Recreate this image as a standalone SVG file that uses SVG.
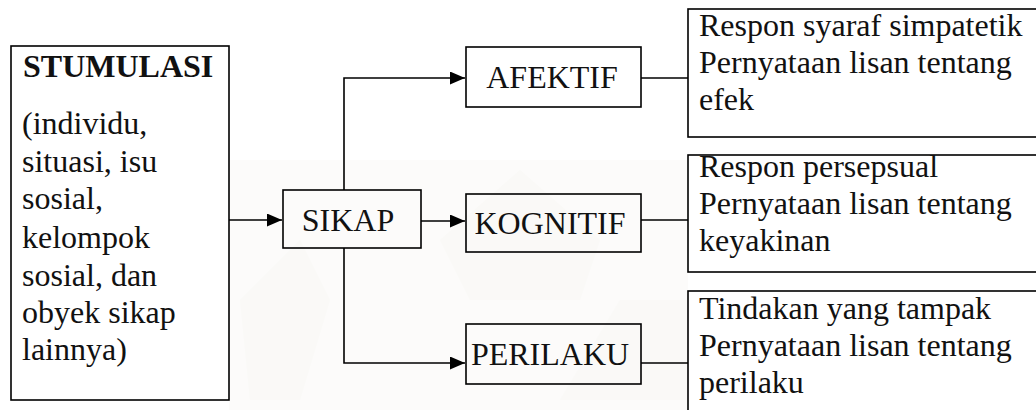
<svg xmlns="http://www.w3.org/2000/svg" width="1036" height="410" viewBox="0 0 1036 410">
<style>
.box{fill:none;stroke:#000;stroke-width:1.6}
.t{font-size:32px;fill:#111}
.b{font-weight:bold}
.c{fill:none;stroke:#000;stroke-width:1.6}
.wm{fill:#f8f7f4}
</style>
<defs>
<marker id="ah" markerWidth="15" markerHeight="13" refX="15" refY="6.5" orient="auto" markerUnits="userSpaceOnUse">
<path d="M0,0 L15,6.5 L0,13 Z" fill="#000"/>
</marker>
</defs>
<rect width="1036" height="410" fill="#fff"/>
<g id="watermark" opacity="0.7">
<rect class="wm" x="229" y="160" width="459" height="250" opacity="0.6"/>
<path class="wm" d="M240,300 L300,240 L330,300 L300,400 L250,400 Z"/>
<path class="wm" d="M440,240 L520,170 L600,240 L580,300 L470,300 Z"/>
<path class="wm" d="M560,400 L620,300 L688,300 L688,400 Z"/>
</g>
<g id="connectors">
<path class="c" d="M229,220 H282" marker-end="url(#ah)"/>
<path class="c" d="M344,190 V78 H465" marker-end="url(#ah)"/>
<path class="c" d="M421,221 H465" marker-end="url(#ah)"/>
<path class="c" d="M344,248 V363 H465" marker-end="url(#ah)"/>
<path class="c" d="M641,78 H688"/>
<path class="c" d="M641,220 H688"/>
<path class="c" d="M641,363 H688"/>
</g>
<g font-family="'Liberation Serif', 'Times New Roman', Times, serif">
<g id="stumulasi">
<rect class="box" x="11" y="46" width="218" height="354" style="fill:#fff"/>
<text class="t b" x="23" y="77">STUMULASI</text>
<text class="t" x="22"><tspan x="22" y="134">(individu,</tspan><tspan x="22" y="172">situasi, isu</tspan><tspan x="22" y="209">sosial,</tspan><tspan x="22" y="248">kelompok</tspan><tspan x="22" y="286">sosial, dan</tspan><tspan x="22" y="323">obyek sikap</tspan><tspan x="22" y="360">lainnya)</tspan></text>
</g>
<g id="sikap">
<rect class="box" x="283" y="190" width="138" height="58"/>
<text class="t" x="348" y="231" text-anchor="middle">SIKAP</text>
</g>
<g id="afektif">
<rect class="box" x="466" y="47" width="175" height="60"/>
<text class="t" x="552" y="88" text-anchor="middle">AFEKTIF</text>
</g>
<g id="kognitif">
<rect class="box" x="466" y="194" width="175" height="58"/>
<text class="t" x="550" y="234" text-anchor="middle">KOGNITIF</text>
</g>
<g id="perilaku">
<rect class="box" x="466" y="324" width="175" height="60"/>
<text class="t" x="550" y="365" text-anchor="middle">PERILAKU</text>
</g>
<g id="desc-afektif">
<rect class="box" x="688" y="9" width="360" height="128" style="fill:#fff"/>
<text class="t"><tspan x="699" y="36">Respon syaraf simpatetik</tspan><tspan x="699" y="73">Pernyataan lisan tentang</tspan><tspan x="699" y="110">efek</tspan></text>
</g>
<g id="desc-kognitif">
<rect class="box" x="688" y="155" width="360" height="117" style="fill:#fff"/>
<text class="t"><tspan x="699" y="177">Respon persepsual</tspan><tspan x="699" y="214">Pernyataan lisan tentang</tspan><tspan x="699" y="251">keyakinan</tspan></text>
</g>
<g id="desc-perilaku">
<rect class="box" x="688" y="291" width="360" height="140" style="fill:#fff"/>
<text class="t"><tspan x="699" y="319">Tindakan yang tampak</tspan><tspan x="699" y="356">Pernyataan lisan tentang</tspan><tspan x="699" y="393">perilaku</tspan></text>
</g>
</g>
</svg>
